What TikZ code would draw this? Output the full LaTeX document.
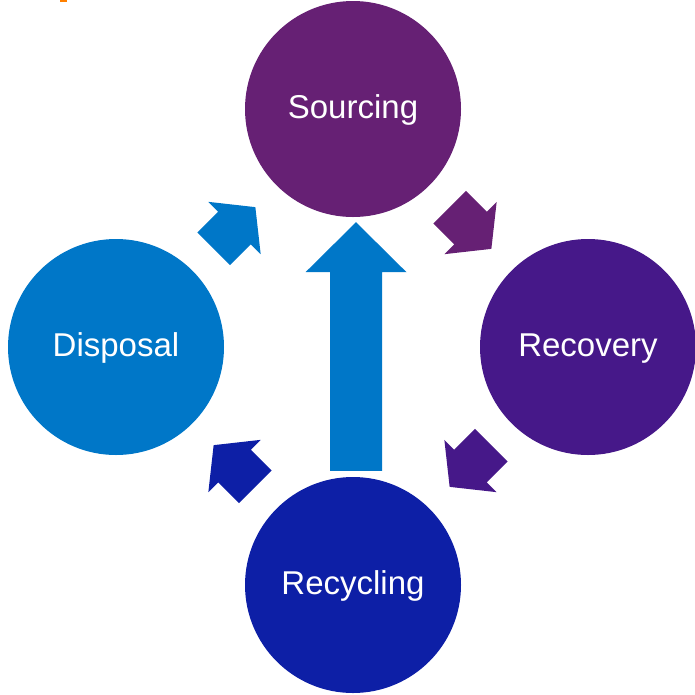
\documentclass[tikz,border=0pt]{standalone}
\usepackage{fontspec}
\setmainfont{Liberation Sans}
\usetikzlibrary{calc}
\definecolor{csrc}{HTML}{662074}
\definecolor{crec}{HTML}{461889}
\definecolor{cdis}{HTML}{0077C8}
\definecolor{ccyc}{HTML}{0D1FA6}
\definecolor{corg}{HTML}{FF8000}
\tikzset{
  stage/.style={circle, fill=#1, minimum size=216pt, inner sep=0pt, text=white,
    font=\fontsize{33}{40}\selectfont, text height=19pt, text depth=0pt}
}
\newcommand{\blkarrow}[4]{%
  \begin{scope}[shift={($(#1)!0.5!(#2)$)}, rotate=#3]
    \fill[#4] (-29.5,-23) -- (0,-23) -- (0,-37) -- (29.5,0) -- (0,37) -- (0,23) -- (-29.5,23) -- cycle;
  \end{scope}}
\begin{document}
\begin{tikzpicture}[x=1pt, y=-1pt]
\useasboundingbox (0,0) rectangle (695,694);
\fill[corg] (60,0) rectangle (67,1.5);
\node[stage=csrc] (S) at (353,109) {Sourcing};
\node[stage=crec] (R) at (588,347) {Recovery};
\node[stage=cdis] (D) at (116,347) {Disposal};
\node[stage=ccyc] (Y) at (353,585) {Recycling};
\blkarrow{S}{R}{-45}{csrc}
\blkarrow{R}{Y}{-135}{crec}
\blkarrow{Y}{D}{135}{ccyc}
\blkarrow{D}{S}{45}{cdis}
\coordinate (bt) at ($(Y.north)+(3,-6)$);
\coordinate (tp) at ($(S.south)+(3,5)$);
\fill[cdis] ($(bt)+(-26,0)$) -- ($(tp)+(-26,50)$) -- ($(tp)+(-50.5,50)$) -- (tp)
  -- ($(tp)+(50.5,50)$) -- ($(tp)+(26,50)$) -- ($(bt)+(26,0)$) -- cycle;
\end{tikzpicture}
\end{document}
